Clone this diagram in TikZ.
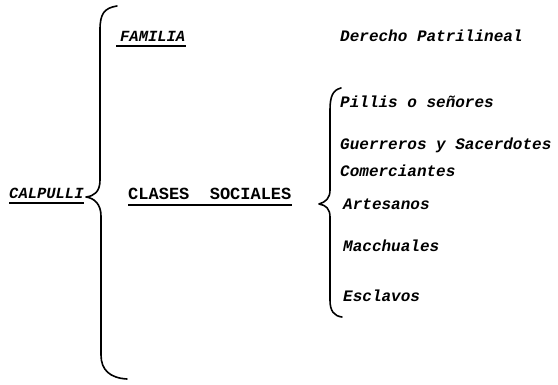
\documentclass[tikz,border=0pt]{standalone}
\usepackage{fontspec}
\setmonofont{Liberation Mono}
\usetikzlibrary{positioning}
\tikzset{
  item/.style  = {anchor=base west, inner sep=0pt,
                  font=\ttfamily\bfseries\itshape\fontsize{16}{18}\selectfont},
  head/.style  = {item, font=\ttfamily\bfseries\itshape\fontsize{15.5}{18}\selectfont},
  brace/.style = {line width=1.6pt, line cap=round, line join=round},
  uline/.style = {line width=1.2pt}
}

\begin{document}
\begin{tikzpicture}[x=1pt, y=-1pt]
    \useasboundingbox (0,0) rectangle (558,385);
    \node[head] (calp) at (9,199)   {CALPULLI};
    \node[head] (fam)  at (120,42)  {FAMILIA};
    \node[head, font=\ttfamily\bfseries\fontsize{17}{18}\selectfont]
                (cls)  at (128,200) {CLASES\ \ SOCIALES};
    \node[item] (der)  at (340,42)  {Derecho Patrilineal};
    \node[item] (pil)  at (340,108) {Pillis o señores};
    \node[item] (gue)  at (340,150) {Guerreros y Sacerdotes};
    \node[item] (com)  at (340,177) {Comerciantes};
    \node[item] (art)  at (343,210) {Artesanos};
    \node[item] (mac)  at (343,252) {Macchuales};
    \node[item] (esc)  at (343,302) {Esclavos};
    % subrayados
    \draw[uline] ([shift={(-4,4)}]fam.base west) -- ([yshift=-4]fam.base east);
    \draw[uline] ([yshift=-4]calp.base west) -- ([yshift=-4]calp.base east);
    \draw[uline] ([yshift=-5]cls.base west) -- ([yshift=-5]cls.base east);
    % llaves
    \draw[brace] (117,6) .. controls (104,8) and (100,14) .. (100,30)
      -- (100,180) .. controls (100,192) and (94,196) .. (86,197)
      .. controls (94,198) and (101,204) .. (101,216)
      -- (101,355) .. controls (101,370) and (110,378) .. (127,379);
    \draw[brace] (341,88) .. controls (333,90) and (330,96) .. (330,110)
      -- (330,190) .. controls (330,198) and (326,202) .. (319,204)
      .. controls (326,205) and (330,209) .. (330,217)
      -- (330,300) .. controls (330,311) and (334,316) .. (342,317);
\end{tikzpicture}
\end{document}
